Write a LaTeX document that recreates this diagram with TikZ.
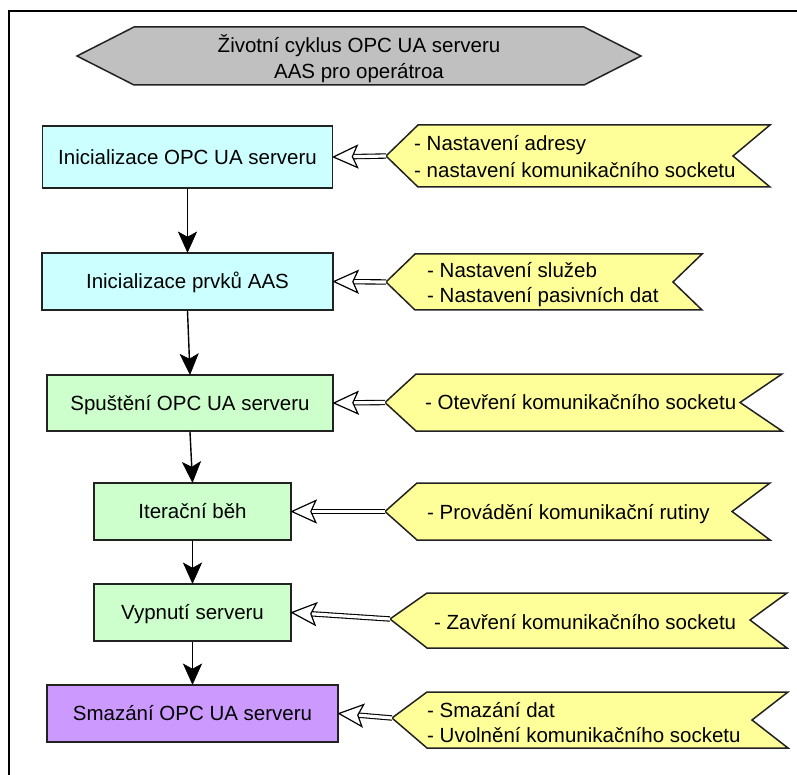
\documentclass[tikz,border=0pt]{standalone}
\usepackage{fontspec}
\setmainfont{Liberation Sans}
\usetikzlibrary{calc}
\definecolor{cyanfill}{HTML}{CCFFFF}
\definecolor{greenfill}{HTML}{CCFFCC}
\definecolor{purplefill}{HTML}{CC99FF}
\definecolor{yellowfill}{HTML}{FFFF99}
\definecolor{grayfill}{HTML}{C0C0C0}
\definecolor{edge}{HTML}{222222}
\tikzset{
  lbl/.style={inner sep=0pt, text height=14.7pt, text depth=0pt, font=\fontsize{20.5}{26}\selectfont},
  box/.style={lbl, draw=edge, line width=1.7pt, rectangle},
  flagtext/.style={lbl, anchor=west},
  flagshape/.style={draw=edge, line width=1.5pt, fill=yellowfill, line join=miter},
  hdr/.style={draw=edge, line width=1.5pt, fill=grayfill},
  flowline/.style={line width=1.4pt, draw=black},
  flowhead/.style={fill=black, draw=black, line width=0.6pt, line join=miter},
  feedshaft/.style={line width=1.1pt, draw=black, double=white, double distance=3.2pt},
  feedhead/.style={line width=1.2pt, draw=black, fill=white, line join=miter},
}
% vertical flow connector with a filled concave head
\newcommand\flowarrow[2]{%
  \draw[flowline] (#1.south) -- ($(#2.north)!14pt!(#1.south)$);
  \draw[flowhead] (#2.north) -- ($(#2.north)!21.9pt!-24.2:(#1.south)$) -- ($(#2.north)!15pt!(#1.south)$) -- ($(#2.north)!21.9pt!24.2:(#1.south)$) -- cycle;
}
% hollow double-line connector
\newcommand\feedarrow[2]{%
  \draw[feedshaft] (#1) -- ($(#2.east)!17pt!(#1)$);
  \draw[feedhead] (#2.east) -- ($(#2.east)!26.4pt!-24.6:(#1)$) -- ($(#2.east)!19pt!(#1)$) -- ($(#2.east)!26.4pt!24.6:(#1)$) -- cycle;
}
\begin{document}
\begin{tikzpicture}[x=1pt,y=-1pt]
\useasboundingbox (0,0) rectangle (797,775);
\fill[white] (0,0) rectangle (797,775);
\begin{scope}
  \clip (0,0) rectangle (797,775);
  \draw[line width=1.7pt] (9,11) rectangle (830,800);
\end{scope}

% header
\draw[hdr] (77,56) -- (134,27) -- (584,27) -- (641,56) -- (584,85) -- (134,85) -- cycle;
\node[lbl] (t1) at (359,45) {Životní cyklus OPC UA serveru};
\node[lbl] (t2) at (359,71.5) {AAS pro operátroa};

% boxes
\node[box, fill=cyanfill, minimum width=290pt, minimum height=62pt] (b1) at (187.5,157) {Inicializace OPC UA serveru};
\node[box, fill=cyanfill, minimum width=291pt, minimum height=57pt] (b2) at (187.5,281.5) {Inicializace prvků AAS};
\node[box, fill=greenfill, minimum width=286pt, minimum height=56pt] (b3) at (190,403) {Spuštění OPC UA serveru};
\node[box, fill=greenfill, minimum width=197pt, minimum height=57pt] (b4) at (192.5,511.5) {Iterační běh};
\node[box, fill=greenfill, minimum width=197pt, minimum height=57pt] (b5) at (192.5,612.5) {Vypnutí serveru};
\node[box, fill=purplefill, minimum width=291pt, minimum height=57pt] (b6) at (192.5,713.5) {Smazání OPC UA serveru};

\flowarrow{b1}{b2}
\flowarrow{b2}{b3}
\flowarrow{b3}{b4}
\flowarrow{b4}{b5}
\flowarrow{b5}{b6}

% flags
\coordinate (f1) at (386,156);
\draw[flagshape] (f1) -- (418,125) -- (770,125) -- (733,156) -- (770,187) -- (418,187) -- cycle;
\node[flagtext] (n1a) at (414,143) {- Nastavení adresy};
\node[flagtext] (n1b) at (414,170.5) {- nastavení komunikačního socketu};

\coordinate (f2) at (386,282);
\draw[flagshape] (f2) -- (415,254) -- (702,254) -- (673,282) -- (702,310) -- (415,310) -- cycle;
\node[flagtext] (n2a) at (427,270) {- Nastavení služeb};
\node[flagtext] (n2b) at (427,295.5) {- Nastavení pasivních dat};

\coordinate (f3) at (385,402.5);
\draw[flagshape] (f3) -- (416,374) -- (782,374) -- (740,402.5) -- (782,431) -- (416,431) -- cycle;
\node[flagtext] (n3) at (425,402) {- Otevření komunikačního socketu};

\coordinate (f4) at (385,511.5);
\draw[flagshape] (f4) -- (417,483) -- (770,483) -- (732,511.5) -- (770,540) -- (417,540) -- cycle;
\node[flagtext] (n4) at (427,512) {- Provádění komunikační rutiny};

\coordinate (f5) at (390,619);
\draw[flagshape] (f5) -- (427,593) -- (787,593) -- (750,620) -- (787,648) -- (427,648) -- cycle;
\node[flagtext] (n5) at (434,622) {- Zavření komunikačního socketu};

\coordinate (f6) at (392,718);
\draw[flagshape] (f6) -- (427,692) -- (788,692) -- (752,720) -- (788,748) -- (427,748) -- cycle;
\node[flagtext] (n6a) at (427,710) {- Smazání dat};
\node[flagtext] (n6b) at (427,735) {- Uvolnění komunikačního socketu};

% feed arrows
\feedarrow{f1}{b1}
\feedarrow{f2}{b2}
\feedarrow{f3}{b3}
\feedarrow{f4}{b4}
\feedarrow{f5}{b5}
\feedarrow{f6}{b6}
\end{tikzpicture}
\end{document}
